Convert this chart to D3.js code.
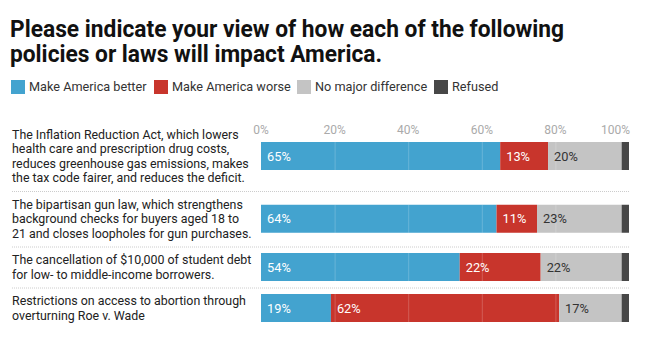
<!DOCTYPE html>
<html>
<head>
<meta charset="utf-8">
<script src="https://cdn.jsdelivr.net/npm/d3@7"></script>
<style>
  body { margin: 0; background: #fff; font-family: Roboto, sans-serif; }
</style>
</head>
<body>
<div class="canvas"></div>
<script>
// chart data
const title = ['Please indicate your view of how each of the following', 'policies or laws will impact America.']
const seriesNames = ['Make America better', 'Make America worse', 'No major difference', 'Refused']
const labels = [
  ['The Inflation Reduction Act, which lowers', 'health care and prescription drug costs,', 'reduces greenhouse gas emissions, makes', 'the tax code fairer, and reduces the deficit.'],
  ['The bipartisan gun law, which strengthens', 'background checks for buyers aged 18 to', '21 and closes loopholes for gun purchases.'],
  ['The cancellation of $10,000 of student debt', 'for low- to middle-income borrowers.'],
  ['Restrictions on access to abortion through', 'overturning Roe v. Wade']
]
const better = [65, 64, 54, 19]
const worse = [13, 11, 22, 62]
const noDiff = [20, 23, 22, 17]
const refused = [2, 2, 2, 2]
const ticks = [0, 20, 40, 60, 80, 100]

const colors = ['#43a3cf', '#c8352c', '#c4c4c4', '#474747']
const textColors = ['#fff', '#fff', '#333', '#fff']

const width = 671, height = 341
const svg = d3.select('.canvas')
  .append('svg')
  .attr('width', width)
  .attr('height', height)

// title
const titleWidths = [554, 372]
svg.append('g').selectAll('text')
  .data(title)
  .enter()
  .append('text')
  .attr('x', 10)
  .attr('y', (d, i) => 37 + i * 25)
  .attr('font-size', 23)
  .attr('font-weight', 700)
  .attr('fill', '#111')
  .attr('textLength', (d, i) => titleWidths[i])
  .attr('lengthAdjust', 'spacingAndGlyphs')
  .text(d => d)

// legend
const legendX = [11, 154, 297, 434]
const legend = svg.append('g')
  .selectAll('g')
  .data(seriesNames)
  .enter()
  .append('g')
  .attr('transform', (d, i) => `translate(${legendX[i]}, 80)`)
legend.append('rect')
  .attr('width', 14)
  .attr('height', 14)
  .attr('fill', (d, i) => colors[i])
legend.append('text')
  .attr('x', 18)
  .attr('y', 11)
  .attr('font-size', 12.7)
  .attr('fill', '#333')
  .text(d => d)

// rows
const data = labels.map((lines, i) => ({
  lines,
  values: [better[i], worse[i], noDiff[i], refused[i]]
}))

const lineH = 14.5
let rowTop = 121
data.forEach(d => {
  d.h = d.lines.length * lineH + 12
  d.top = rowTop
  d.mid = rowTop + d.h / 2
  rowTop += d.h
})

const x = d3.scaleLinear()
  .domain([0, 100])
  .range([261, 629])

const barH = 28

// tick labels
svg.append('g').selectAll('text')
  .data(ticks)
  .enter()
  .append('text')
  .attr('x', d => x(d))
  .attr('y', 134)
  .attr('font-size', 12)
  .attr('fill', '#aaa')
  .attr('text-anchor', d => d === 100 ? 'end' : 'middle')
  .attr('dx', d => d === 100 ? 1 : 0)
  .text(d => d + '%')

const rows = svg.append('g')
  .selectAll('g')
  .data(data)
  .enter()
  .append('g')

// separators
rows.filter((d, i) => i > 0)
  .append('line')
  .attr('x1', 12)
  .attr('x2', x(100))
  .attr('y1', d => d.top + 0.5)
  .attr('y2', d => d.top + 0.5)
  .attr('stroke', '#ccc')
  .attr('stroke-dasharray', '1,1')

rows.each(function (d) {
  const g = d3.select(this)
  const first = d.mid - (d.lines.length - 1) * lineH / 2 + 4.5
  // row labels
  g.selectAll('text.lab')
    .data(d.lines)
    .enter()
    .append('text')
    .attr('class', 'lab')
    .attr('x', 12)
    .attr('y', (l, j) => first + j * lineH)
    .attr('font-size', 12.4)
    .attr('fill', '#222')
    .text(l => l)

  let acc = 0
  const segs = d.values.map((v, k) => {
    const s = { start: acc, v, k }
    acc += v
    return s
  })
  g.selectAll('rect.seg')
    .data(segs)
    .enter()
    .append('rect')
    .attr('class', 'seg')
    .attr('x', s => x(s.start))
    .attr('y', d.mid - barH / 2)
    .attr('width', s => x(s.start + s.v) - x(s.start))
    .attr('height', barH)
    .attr('fill', s => colors[s.k])

  // gridlines over bars
  g.selectAll('line.grid')
    .data(ticks.filter(t => t > 0 && t < 100))
    .enter()
    .append('line')
    .attr('class', 'grid')
    .attr('x1', t => x(t) + 0.5)
    .attr('x2', t => x(t) + 0.5)
    .attr('y1', d.mid - barH / 2)
    .attr('y2', d.mid + barH / 2)
    .attr('stroke', '#fff')
    .attr('stroke-opacity', 0.2)

  g.selectAll('text.val')
    .data(segs.filter(s => s.k < 3))
    .enter()
    .append('text')
    .attr('class', 'val')
    .attr('x', s => x(s.start) + 6)
    .attr('y', d.mid + 4.5)
    .attr('font-size', 12.8)
    .attr('fill', s => textColors[s.k])
    .text(s => s.v + '%')
})
</script>
</body>
</html>
